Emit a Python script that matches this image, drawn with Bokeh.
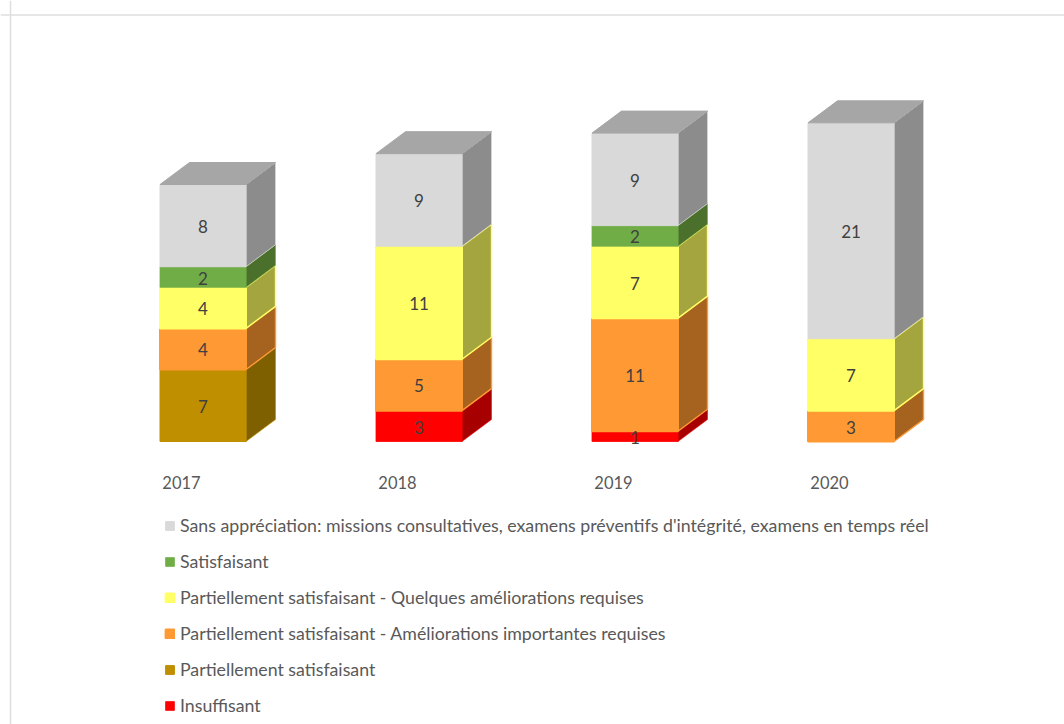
from bokeh.plotting import figure
from bokeh.models import ColumnDataSource, Legend, LegendItem, Span, FixedTicker, Range1d
from bokeh.core.properties import value
from bokeh.embed import file_html
from bokeh.resources import INLINE

years = [2017, 2018, 2019, 2020]
insuffisant = [0, 3, 1, 0]
partiel = [7, 0, 0, 0]
partiel_importantes = [4, 5, 11, 3]
partiel_quelques = [4, 11, 7, 7]
satisfaisant = [2, 0, 2, 0]
sans_appreciation = [8, 9, 9, 21]

# bottom of the stack first
names = [
    "Insuffisant",
    "Partiellement satisfaisant",
    "Partiellement satisfaisant - Améliorations importantes requises",
    "Partiellement satisfaisant - Quelques améliorations requises",
    "Satisfaisant",
    "Sans appréciation: missions consultatives, examens préventifs d'intégrité, examens en temps réel",
]
values = [insuffisant, partiel, partiel_importantes, partiel_quelques, satisfaisant, sans_appreciation]
front_colors = ["#FF0000", "#BF8F00", "#FF9933", "#FFFF66", "#70AD47", "#D9D9D9"]
side_colors = ["#A60000", "#7F6000", "#A5631F", "#A5A53F", "#4A702B", "#8C8C8C"]
edge_widths = [0.8, 1, 2, 2, 0.8, 1]
TOP_COLOR = "#A6A6A6"

W, H = 1064, 724
PX_YEAR = 216.0
PX_UNIT = 10.28
x0 = 2017 - 181 / PX_YEAR
y1 = 441 / PX_UNIT
p = figure(width=W, height=H, output_backend="svg", toolbar_location=None,
           x_range=Range1d(x0, x0 + W / PX_YEAR), y_range=Range1d(y1 - H / PX_UNIT, y1),
           min_border=0, min_border_left=0, min_border_right=0, min_border_top=0, min_border_bottom=0,
           background_fill_color="white", border_fill_color="white", outline_line_color=None)
p.grid.visible = False
p.yaxis.visible = False

xa = p.xaxis[0]
xa.fixed_location = -2.7
xa.ticker = FixedTicker(ticks=years)
xa.axis_line_color = None
xa.major_tick_line_color = None
xa.minor_tick_line_color = None
xa.major_label_text_font = "Lato"
xa.major_label_text_font_size = "16.5px"
xa.major_label_text_color = "#595959"
xa.major_label_standoff = 1

p.add_layout(Span(location=10, location_units="screen", dimension="height",
                  line_color="#DEDEDE", line_width=1.5))
p.add_layout(Span(location=H - 14.5, location_units="screen", dimension="width",
                  line_color="#DEDEDE", line_width=1.5))

LEFT = -21.5 / PX_YEAR
BAR = 86 / PX_YEAR
DX = 29.5 / PX_YEAR
DY = 22 / PX_UNIT

base = [0] * len(years)
items = []
lab_x, lab_y, lab_t = [], [], []
for name, vals, col, side, ew in zip(names, values, front_colors, side_colors, edge_widths):
    idx = [i for i, v in enumerate(vals) if v > 0]
    lefts = [years[i] + LEFT for i in idx]
    rights = [l + BAR for l in lefts]
    bottoms = [base[i] for i in idx]
    tops = [base[i] + vals[i] for i in idx]
    p.patches(xs=[[r, r + DX, r + DX, r] for r in rights],
              ys=[[b, b + DY, t + DY, t] for b, t in zip(bottoms, tops)],
              fill_color=side, line_color=col, line_width=ew * 0.7)
    r = p.quad(left=lefts, right=rights, bottom=bottoms, top=tops,
               fill_color=col, line_color=col, line_width=ew)
    items.append(LegendItem(label=name, renderers=[r]))
    for i in idx:
        lab_x.append(years[i] + LEFT + BAR / 2)
        lab_y.append(base[i] + vals[i] / 2)
        lab_t.append(str(vals[i]))
        base[i] += vals[i]

# top faces of the stacks
p.patches(xs=[[y + LEFT, y + LEFT + BAR, y + LEFT + BAR + DX, y + LEFT + DX] for y in years],
          ys=[[t, t, t + DY, t + DY] for t in base],
          fill_color=TOP_COLOR, line_color=TOP_COLOR, line_width=1)

p.text(x="x", y="y", text="t", source=ColumnDataSource(dict(x=lab_x, y=lab_y, t=lab_t)),
       text_align="center", text_baseline="middle", y_offset=1,
       text_font=value("Lato"), text_font_size="17px", text_color="#404040")

legend = Legend(items=items[::-1], location=(164, 8), orientation="vertical",
                background_fill_alpha=0, border_line_color=None, padding=0, margin=0,
                glyph_width=11, glyph_height=11, label_standoff=5, label_height=16, spacing=14,
                label_text_font="Lato", label_text_font_size="17.75px", label_text_color="#595959")
p.add_layout(legend, "center")

open("out.html", "w").write(file_html(p, INLINE))
